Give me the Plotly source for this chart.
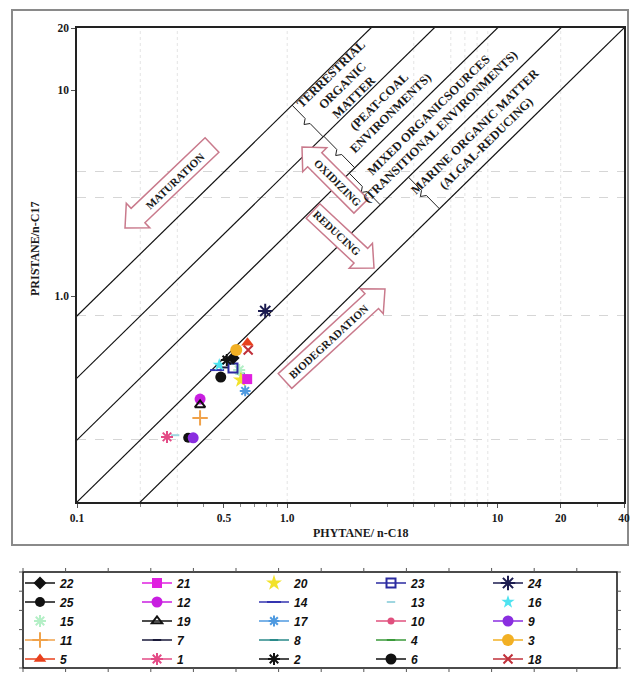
import math
import plotly.graph_objects as go

# ---------------- data ----------------
series = ["22", "21", "20", "23", "24", "25", "12", "14", "13", "16", "15", "19", "17",
          "10", "9", "11", "7", "8", "4", "3", "5", "1", "2", "6", "18"]
phytane_c18 = [0.553, 0.645, 0.602, 0.552, 0.786, 0.338, 0.385, 0.464, 0.293, 0.475, 0.591, 0.385, 0.631,
               0.640, 0.357, 0.385, 0.500, 0.600, 0.540, 0.572, 0.647, 0.268, 0.516, 0.483, 0.652]
pristane_c17 = [0.500, 0.395, 0.391, 0.447, 0.846, 0.205, 0.316, 0.437, 0.211, 0.463, 0.437, 0.296, 0.346,
                0.400, 0.205, 0.256, 0.450, 0.420, 0.470, 0.547, 0.593, 0.207, 0.489, 0.404, 0.547]
ratio_lines = [8, 4, 2, 1, 0.5]          # Pr/n-C17 = k * Ph/n-C18
x_tick_vals = [0.1, 0.5, 1, 10, 20, 40]
x_tick_text = ["0.1", "0.5", "1.0", "10", "20", "40"]
y_tick_vals = [1, 10, 20]
y_tick_text = ["1.0", "10", "20"]

# ---------------- styles ----------------
style = {
    "22": ("diamond", "#111111", 10, "lines+markers"),
    "21": ("square", "#e020e0", 10, "lines+markers"),
    "20": ("star", "#f2e22a", 12, "markers"),
    "23": ("square-open", "#2a2aa0", 9, "lines+markers"),
    "24": ("asterisk-open", "#1c1c50", 12, "lines+markers"),
    "25": ("circle", "#111111", 10, "lines+markers"),
    "12": ("circle", "#c81ee0", 11, "lines+markers"),
    "14": ("line-ew-open", "#3434b0", 10, "lines+markers"),
    "13": ("line-ew-open", "#9fd6e0", 6, "markers"),
    "16": ("star", "#4fe3f0", 10, "markers"),
    "15": ("asterisk-open", "#b4efc6", 10, "markers"),
    "19": ("triangle-up-open", "#111111", 9, "lines+markers"),
    "17": ("asterisk-open", "#4f9ae0", 9, "lines+markers"),
    "10": ("circle", "#e0507e", 7, "lines+markers"),
    "9": ("circle", "#8a2ee0", 11, "lines+markers"),
    "11": ("cross-thin-open", "#f0a24a", 11, "lines+markers"),
    "7": ("line-ew-open", "#1a1a3a", 6, "lines+markers"),
    "8": ("line-ew-open", "#2a8a8a", 6, "lines+markers"),
    "4": ("line-ew-open", "#3a9a3a", 6, "lines+markers"),
    "3": ("circle", "#f2b024", 12, "lines+markers"),
    "5": ("triangle-up", "#e8401c", 11, "lines+markers"),
    "1": ("asterisk-open", "#e34b86", 10, "lines+markers"),
    "2": ("asterisk-open", "#111111", 10, "lines+markers"),
    "6": ("circle", "#111111", 11, "lines+markers"),
    "18": ("x-thin-open", "#c0303a", 9, "lines+markers"),
}
draw_order = ["4", "7", "8", "10", "13", "14", "16", "15", "23", "22", "25", "6", "2", "20", "21",
              "17", "12", "19", "11", "9", "1", "3", "18", "5", "24"]

# ---------------- geometry ----------------
W, H = 630, 673
ML, MR, MT, MB = 77, 6, 28, 171
PW = W - ML - MR
PH = H - MT - MB
XMIN, XMAX, YMIN, YMAX = 0.1, 40, 0.1, 20
LX = math.log10(XMAX) - math.log10(XMIN)
LY = math.log10(YMAX) - math.log10(YMIN)


def px_x(v):
    return ML + PW * (math.log10(v) - math.log10(XMIN)) / LX


def px_y(v):
    return MT + PH * (1 - (math.log10(v) - math.log10(YMIN)) / LY)


def val_y(py):
    return 10 ** (math.log10(YMIN) + LY * (MT + PH - py) / PH)


def pap(px, py):
    return (px - ML) / PW, (MT + PH - py) / PH


def path(points, close=False):
    s = ""
    for i, (a, b) in enumerate(points):
        xp, yp = pap(a, b)
        s += ("M" if i == 0 else "L") + f"{xp:.5f},{yp:.5f} "
    return s + ("Z" if close else "")


fig = go.Figure()

# ratio lines
for k in ratio_lines:
    xs = [0.01, 1000]
    fig.add_trace(go.Scatter(x=xs, y=[k * v for v in xs], mode="lines",
                             line=dict(color="#111111", width=1.2),
                             showlegend=False, hoverinfo="skip"))

# samples
idx = {s: i for i, s in enumerate(series)}
for s in draw_order:
    i = idx[s]
    sym, col, size, mode = style[s]
    marker = dict(symbol=sym, color=col, size=size)
    if sym.endswith("-open"):
        marker["line"] = dict(color=col, width=2)
    fig.add_trace(go.Scatter(x=[phytane_c18[i]], y=[pristane_c17[i]], mode=mode, name=s,
                             marker=marker, line=dict(color=col, width=1.5),
                             legendrank=i + 1))

shapes = []
annotations = []

# faint vertical grid lines
for v in [0.2, 0.3, 1, 4, 6, 7, 8, 9, 20]:
    xp = (px_x(v) - ML) / PW
    shapes.append(dict(type="line", xref="paper", yref="paper", x0=xp, x1=xp, y0=0, y1=1,
                       line=dict(color="#e4e4e4", width=1, dash="dot"), layer="below"))

# outer frame
fx0, fy1 = pap(12, 10)
fx1, fy0 = pap(628, 545)
shapes.append(dict(type="rect", xref="paper", yref="paper", x0=fx0, x1=fx1, y0=fy0, y1=fy1,
                   line=dict(color="#8a8a8a", width=2), layer="below"))

# zone labels and braces
ang = -math.degrees(math.atan((PH / LY) / (PW / LX)))


def line_pts(k):
    p0 = (px_x(0.1), px_y(0.1 * k))
    p1 = (px_x(10), px_y(10 * k))
    L = math.hypot(p1[0] - p0[0], p1[1] - p0[1])
    e = ((p1[0] - p0[0]) / L, (p1[1] - p0[1]) / L)
    return p0, e


def foot(c, k):
    p0, e = line_pts(k)
    t = (c[0] - p0[0]) * e[0] + (c[1] - p0[1]) * e[1]
    return (p0[0] + t * e[0], p0[1] + t * e[1]), e


def mid_point(ka, kb, py):
    km = math.sqrt(ka * kb)
    yv = val_y(py)
    return (px_x(yv / km), py)


zones = [
    (8, 4, "TERRESTRIAL<br>ORGANIC<br>MATTER", 86, 121),
    (4, 2, "(PEAT-COAL<br>ENVIRONMENTS)", 107, 152),
    (2, 1, "MIXED ORGANICSOURCES<br>(TRANSITIONAL ENVIRONMENTS)", 121, 189),
    (1, 0.5, "MARINE ORGANIC MATTER<br>(ALGAL-REDUCING)", 137, 193),
]
lab_font = dict(family="Liberation Serif, Times New Roman, serif", size=12.5, color="#1a1a1a",
                weight="bold")
for ka, kb, txt, ty, by in zones:
    cx, cy = mid_point(ka, kb, ty)
    xp, yp = pap(cx, cy)
    btxt = "<br>".join("<b>" + t + "</b>" for t in txt.split("<br>"))
    annotations.append(dict(xref="paper", yref="paper", x=xp, y=yp, text=btxt, showarrow=False,
                            xanchor="center", yanchor="middle",
                            textangle=ang, font=lab_font, align="center"))
    c = mid_point(ka, kb, by)
    A, e = foot(c, ka)
    C, _ = foot(c, kb)
    q1 = (A[0] + 0.42 * (C[0] - A[0]), A[1] + 0.42 * (C[1] - A[1]))
    q2 = (A[0] + 0.58 * (C[0] - A[0]), A[1] + 0.58 * (C[1] - A[1]))
    m = (A[0] + 0.5 * (C[0] - A[0]) - 5 * e[0], A[1] + 0.5 * (C[1] - A[1]) - 5 * e[1])
    shapes.append(dict(type="path", xref="paper", yref="paper", path=path([A, q1, m, q2, C]),
                       line=dict(color="#222222", width=1)))


# block arrows
def arrow(tail, tip, hw=10, hl=18, hhw=17):
    dx, dy = tip[0] - tail[0], tip[1] - tail[1]
    L = math.hypot(dx, dy)
    d = (dx / L, dy / L)
    n = (-d[1], d[0])
    b = (tip[0] - d[0] * hl, tip[1] - d[1] * hl)
    pts = [
        (tail[0] + n[0] * hw, tail[1] + n[1] * hw),
        (b[0] + n[0] * hw, b[1] + n[1] * hw),
        (b[0] + n[0] * hhw, b[1] + n[1] * hhw),
        tip,
        (b[0] - n[0] * hhw, b[1] - n[1] * hhw),
        (b[0] - n[0] * hw, b[1] - n[1] * hw),
        (tail[0] - n[0] * hw, tail[1] - n[1] * hw),
    ]
    return path(pts, close=True)


arrow_font = dict(family="Liberation Serif, Times New Roman, serif", size=11, color="#1a1a1a",
                  weight="bold")
arrows = [
    ((212, 145), (125, 228), "MATURATION", (175, 181), -43.6),
    ((361, 206), (302, 147), "OXIDIZING", (338, 183), 45),
    ((313, 211), (374, 268), "REDUCING", (337, 233), 43),
    ((285, 381), (385, 289), "BIODEGRADATION", (328, 342), -42.6),
]
for tail, tip, txt, ctr, a in arrows:
    shapes.append(dict(type="path", xref="paper", yref="paper", path=arrow(tail, tip),
                       line=dict(color="#c97a8c", width=1.5), fillcolor="white"))
    xp, yp = pap(*ctr)
    annotations.append(dict(xref="paper", yref="paper", x=xp, y=yp, text="<b>" + txt + "</b>",
                            showarrow=False, xanchor="center", yanchor="middle",
                            textangle=a, font=arrow_font))

# axis titles
ax_font = dict(family="Liberation Serif, Times New Roman, serif", size=12, color="#1a1a1a",
               weight="bold")
xp, yp = pap(360, 533)
annotations.append(dict(xref="paper", yref="paper", x=xp, y=yp, text="<b>PHYTANE/ n-C18</b>",
                        xanchor="center", yanchor="middle", showarrow=False, font=ax_font))
xp, yp = pap(35, 249)
annotations.append(dict(xref="paper", yref="paper", x=xp, y=yp, text="<b>PRISTANE/n-C17</b>",
                        xanchor="center", yanchor="middle", showarrow=False, font=ax_font,
                        textangle=-90))

# legend box with tick marks
BOX_L, BOX_T, BOX_R, BOX_B = 23, 572, 617, 668
bx0, by1 = pap(BOX_L, BOX_T)
bx1, by0 = pap(BOX_R, BOX_B)
shapes.append(dict(type="rect", xref="paper", yref="paper", x0=bx0, x1=bx1, y0=by0, y1=by1,
                   line=dict(color="#111111", width=1.5)))
for i in range(15):
    tx = BOX_L + i * 42.6
    if tx > BOX_R:
        break
    shapes.append(dict(type="path", xref="paper", yref="paper", path=path([(tx, BOX_T), (tx, BOX_T - 4)]),
                       line=dict(color="#555555", width=1)))
    shapes.append(dict(type="path", xref="paper", yref="paper", path=path([(tx, BOX_B), (tx, BOX_B + 4)]),
                       line=dict(color="#555555", width=1)))
for i in range(6):
    ty = BOX_T + i * 19.2
    shapes.append(dict(type="path", xref="paper", yref="paper", path=path([(BOX_L, ty), (BOX_L - 4, ty)]),
                       line=dict(color="#555555", width=1)))
    shapes.append(dict(type="path", xref="paper", yref="paper", path=path([(BOX_R, ty), (BOX_R + 4, ty)]),
                       line=dict(color="#555555", width=1)))

tick_font = dict(family="Liberation Serif, Times New Roman, serif", size=11.5, color="#1a1a1a", weight="bold")
lx, ly = pap(20, 568.5)

fig.update_layout(
    width=W, height=H,
    margin=dict(l=ML, r=MR, t=MT, b=MB, autoexpand=False),
    paper_bgcolor="white", plot_bgcolor="white",
    showlegend=True,
    legend=dict(orientation="h", x=lx, y=ly, xanchor="left", yanchor="top",
                xref="paper", yref="paper", entrywidth=72, entrywidthmode="pixels",
                borderwidth=0, bgcolor="rgba(0,0,0,0)",
                traceorder="normal", tracegroupgap=0,
                font=dict(family="Liberation Sans Narrow, Liberation Sans, Arial Narrow, sans-serif",
                          size=12, style="italic", weight="bold", color="#111111")),
    xaxis=dict(type="log", range=[math.log10(XMIN), math.log10(XMAX)],
               tickvals=x_tick_vals, ticktext=x_tick_text, tickfont=tick_font,
               showgrid=False, zeroline=False, showline=True, linecolor="#222222", linewidth=1.5,
               mirror=True, ticks="outside", ticklen=4, tickcolor="#555555",
               minor=dict(tickvals=[0.2, 0.3, 0.4, 0.6, 0.7, 0.8, 0.9, 2, 3, 4, 5, 6, 7, 8, 9, 30],
                          ticks="outside", ticklen=3, tickcolor="#888888", showgrid=False)),
    yaxis=dict(type="log", range=[math.log10(YMIN), math.log10(YMAX)],
               tickvals=y_tick_vals, ticktext=y_tick_text, tickfont=tick_font,
               showgrid=False, zeroline=False, showline=True, linecolor="#222222", linewidth=1.5,
               mirror=True, ticks="outside", ticklen=4, tickcolor="#555555",
               minor=dict(tickvals=[0.2, 0.8, 3, 4], showgrid=True, gridcolor="#d6d6d6",
                          griddash="dash", gridwidth=1, ticks="")),
    shapes=shapes,
    annotations=annotations,
)

fig.write_html("out.html")
